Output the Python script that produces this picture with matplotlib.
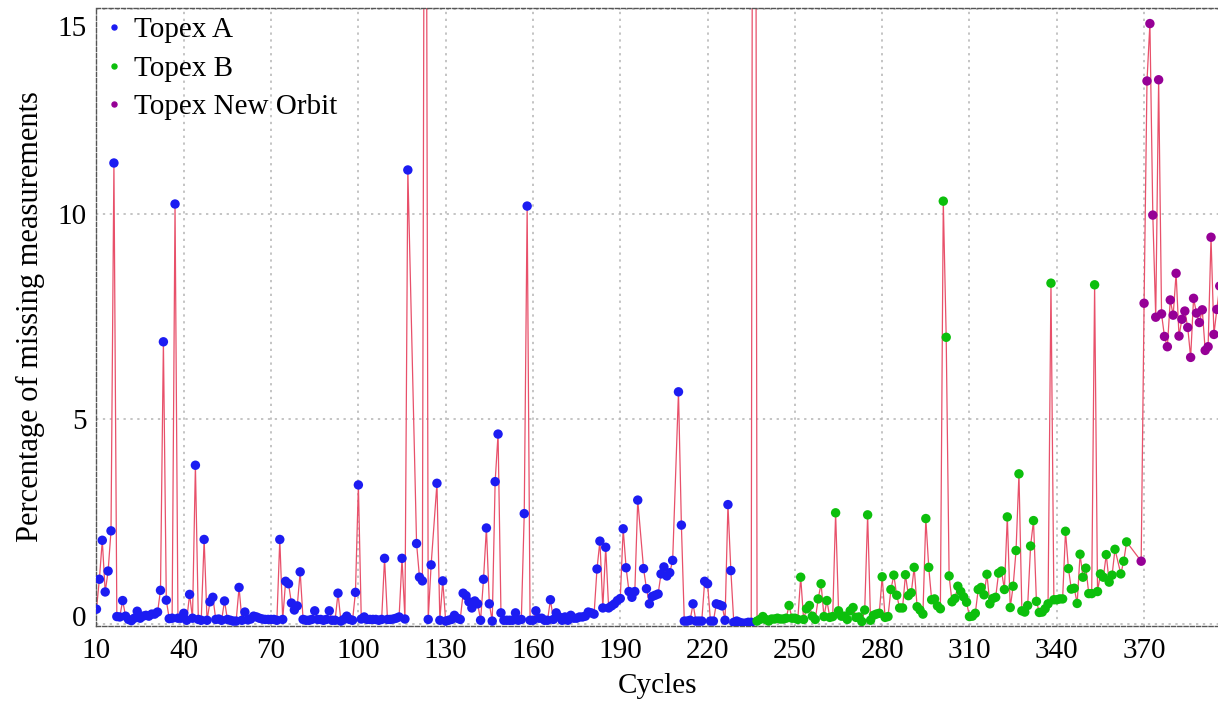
import matplotlib.pyplot as plt
from matplotlib import transforms

# Topex A: cycles 10-235 (a few cycles have no data)
cycles_a = (list(range(10, 118)) + list(range(120, 126)) + list(range(127, 197))
            + list(range(198, 209)) + list(range(210, 236)))
missing_a = [
    0.37, 1.1, 2.05, 0.79, 1.3, 2.28, 11.25, 0.19, 0.18, 0.58,
    0.2, 0.12, 0.09, 0.15, 0.32, 0.15, 0.2, 0.22, 0.2, 0.25,
    0.25, 0.3, 0.83, 6.89, 0.59, 0.14, 0.15, 10.25, 0.15, 0.15,
    0.27, 0.1, 0.73, 0.15, 3.88, 0.12, 0.1, 2.07, 0.1, 0.55,
    0.66, 0.12, 0.13, 0.1, 0.57, 0.12, 0.1, 0.08, 0.08, 0.9,
    0.1, 0.3, 0.11, 0.13, 0.2, 0.18, 0.15, 0.13, 0.12, 0.12,
    0.12, 0.12, 0.1, 2.07, 0.12, 1.05, 0.99, 0.52, 0.35, 0.45,
    1.28, 0.12, 0.1, 0.1, 0.12, 0.33, 0.12, 0.12, 0.1, 0.12,
    0.33, 0.1, 0.1, 0.76, 0.08, 0.12, 0.2, 0.12, 0.1, 0.78,
    3.4, 0.13, 0.18, 0.12, 0.12, 0.12, 0.12, 0.1, 0.12, 1.61,
    0.12, 0.12, 0.13, 0.15, 0.18, 1.61, 0.13, 11.08,
    # 120-125
    1.97, 1.15, 1.06, 30.0, 0.12, 1.45,
    # 127-196
    3.44, 0.1, 1.06, 0.08, 0.1, 0.12, 0.22, 0.15, 0.12, 0.76,
    0.7, 0.55, 0.4, 0.57, 0.5, 0.1, 1.1, 2.35, 0.5, 0.08,
    3.48, 4.64, 0.28, 0.1, 0.1, 0.1, 0.1, 0.28, 0.1, 0.12,
    2.7, 10.2, 0.1, 0.1, 0.33, 0.15, 0.15, 0.1, 0.1, 0.6,
    0.12, 0.28, 0.18, 0.1, 0.18, 0.1, 0.22, 0.15, 0.15, 0.18,
    0.18, 0.2, 0.3, 0.28, 0.25, 1.35, 2.03, 0.4, 1.88, 0.4,
    0.45, 0.5, 0.58, 0.63, 2.33, 1.38, 0.8, 0.66, 0.8, 3.03,
    # 198-208
    1.36, 0.87, 0.5, 0.68, 0.71, 0.74, 1.23, 1.4, 1.18, 1.26, 1.56,
    # 210-235
    5.67, 2.42, 0.08, 0.08, 0.1, 0.5, 0.08, 0.08, 0.08, 1.05,
    0.99, 0.08, 0.08, 0.5, 0.48, 0.45, 0.1, 2.92, 1.31, 0.05,
    0.08, 0.05, 0.03, 0.03, 0.05, 0.05,
]

# Topex B: cycles 236-364
cycles_b = list(range(236, 361)) + list(range(362, 365))
missing_b = [
    45.0, 0.08, 0.12, 0.19, 0.12, 0.08, 0.13, 0.13, 0.15, 0.13,
    0.13, 0.15, 0.46, 0.15, 0.15, 0.12, 1.15, 0.12, 0.38, 0.46,
    0.2, 0.12, 0.62, 0.99, 0.19, 0.58, 0.17, 0.19, 2.72, 0.33,
    0.2, 0.2, 0.12, 0.33, 0.41, 0.17, 0.18, 0.07, 0.35, 2.67,
    0.1, 0.22, 0.25, 0.27, 1.16, 0.17, 0.19, 0.85, 1.2, 0.71,
    0.4, 0.4, 1.21, 0.7, 0.77, 1.39, 0.43, 0.35, 0.25, 2.58,
    1.39, 0.6, 0.62, 0.45, 0.38, 10.32, 7.0, 1.18, 0.55, 0.63,
    0.93, 0.8, 0.67, 0.54, 0.19, 0.2, 0.27, 0.85, 0.9, 0.72,
    1.22, 0.5, 0.63, 0.66, 1.25, 1.3, 0.85, 2.62, 0.41, 0.93,
    1.8, 3.67, 0.33, 0.3, 0.46, 1.91, 2.53, 0.56, 0.29, 0.3,
    0.38, 0.5, 8.32, 0.6, 0.6, 0.62, 0.62, 2.27, 1.36, 0.86,
    0.88, 0.51, 1.71, 1.15, 1.37, 0.75, 0.75, 8.28, 0.8, 1.23,
    1.15, 1.7, 1.03, 1.2, 1.83,
    1.23, 1.54, 2.01,
]

# Topex New Orbit: cycles 369-396
cycles_c = list(range(369, 397))
missing_c = [
    1.54, 7.83, 13.25, 14.65, 9.98, 7.49, 13.28, 7.57, 7.02, 6.77,
    7.91, 7.54, 8.56, 7.03, 7.44, 7.64, 7.24, 6.51, 7.95, 7.59,
    7.36, 7.67, 6.68, 6.77, 9.44, 7.07, 7.68, 8.25,
]

x_ticks = [10, 40, 70, 100, 130, 160, 190, 220, 250, 280, 310, 340, 370]
y_ticks = [0, 5, 10, 15]

assert len(cycles_a) == len(missing_a)
assert len(cycles_b) == len(missing_b)
assert len(cycles_c) == len(missing_c)

plt.rcParams['font.family'] = ['Liberation Serif', 'DejaVu Serif']

fig = plt.figure(figsize=(12.18, 7.01), dpi=100)
ax = fig.add_axes([0.0792, 0.107, 1 - 0.0792, 0.9886 - 0.107])

all_cycles = cycles_a + cycles_b + cycles_c
all_values = missing_a + missing_b + missing_c
ax.plot(all_cycles, all_values, color='#e8506a', lw=0.9, zorder=2)

series = [
    (cycles_a, missing_a, '#1c1cf2', 'Topex A'),
    (cycles_b, missing_b, '#0cbf0c', 'Topex B'),
    (cycles_c, missing_c, '#960096', 'Topex New Orbit'),
]
for cyc, vals, col, name in series:
    ax.scatter(cyc, vals, s=46, color=col, edgecolors='none', zorder=3)
    ax.plot([], [], 'o', color=col, markersize=3.6, label=name)

ax.set_xlim(10, 395.4)
ax.set_ylim(-0.04, 15.03)
ax.set_xticks(x_ticks)
ax.set_yticks(y_ticks)
ax.tick_params(length=0, labelsize=21)
ax.tick_params(axis='x', pad=9)
ax.tick_params(axis='y', pad=7)

ax.grid(True, color='#b4b4b4', linestyle=(0, (1.5, 3)), linewidth=1.1)
ax.set_axisbelow(True)

for side in ['left', 'bottom', 'top']:
    ax.spines[side].set_linestyle((0, (3, 1.5)))
    ax.spines[side].set_color('#555555')
    ax.spines[side].set_linewidth(1.0)
ax.spines['right'].set_visible(False)

# keep the end labels of the y axis inside the figure
for tick, loc in zip(ax.yaxis.get_major_ticks(), y_ticks):
    if loc == 15:
        off = transforms.ScaledTranslation(0, -12 / 72, fig.dpi_scale_trans)
        tick.label1.set_transform(tick.label1.get_transform() + off)
    elif loc == 0:
        off = transforms.ScaledTranslation(0, 6 / 72, fig.dpi_scale_trans)
        tick.label1.set_transform(tick.label1.get_transform() + off)

ax.set_xlabel('Cycles', fontsize=21, labelpad=6)
ax.set_ylabel('Percentage of missing measurements', fontsize=22, labelpad=9)

ax.legend(loc='upper left', bbox_to_anchor=(0.0, 1.0), frameon=False,
          fontsize=21, handlelength=0.6, handletextpad=0.4,
          labelspacing=0.42, borderaxespad=0.1, borderpad=0.2)

fig.savefig('out.png', dpi=100)
